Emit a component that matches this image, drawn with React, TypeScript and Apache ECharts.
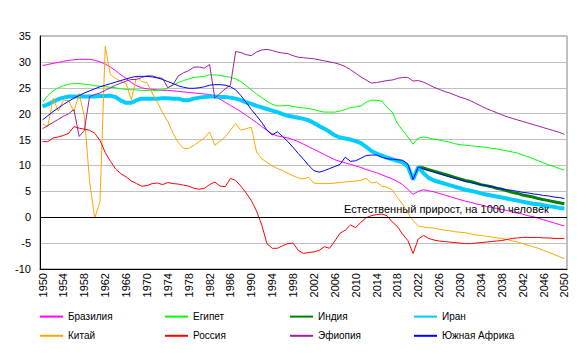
import React, { useEffect, useRef } from "react";
import * as echarts from "echarts";

const years: string[] = Array.from({ length: 101 }, (_, i) => String(1950 + i));

const brazil = [
  29.3, 29.5, 29.7, 29.9, 30.1, 30.3, 30.4, 30.5, 30.5, 30.5,
  30.3, 30.0, 29.6, 29.0, 28.3, 27.5, 26.8, 26.0, 25.4, 25.0,
  24.8, 24.7, 24.6, 24.5, 24.5, 24.4, 24.3, 24.2, 24.1, 24.0,
  23.9, 23.8, 23.7, 23.4, 22.8, 22.2, 21.6, 21.0, 20.4, 19.7,
  19.0, 18.3, 17.5, 16.8, 16.1, 15.7, 15.5, 15.3, 15.0, 14.6,
  14.1, 13.6, 13.1, 12.6, 12.1, 11.6, 11.1, 10.8, 10.5, 10.2,
  9.9, 9.6, 9.2, 8.9, 8.6, 8.2, 7.8, 7.4, 6.9, 6.3,
  5.4, 4.4, 5.0, 5.3, 5.1, 4.9, 4.6, 4.3, 4.0, 3.7,
  3.4, 3.1, 2.9, 2.6, 2.4, 2.1, 1.9, 1.7, 1.5, 1.3,
  1.0, 0.8, 0.6, 0.3, 0.1, -0.2, -0.5, -0.8, -1.1, -1.4,
  -1.7,
];

const egypt = [
  22.2, 23.5, 24.4, 25.0, 25.4, 25.7, 25.8, 25.8, 25.7, 25.6,
  25.4, 25.3, 25.2, 25.1, 25.0, 24.8, 24.7, 24.6, 24.6, 24.5,
  24.5, 24.5, 24.5, 24.6, 25.0, 25.5, 26.0, 26.4, 26.7, 27.0,
  27.1, 27.2, 27.5, 27.5, 27.4, 27.2, 27.0, 26.7, 26.2, 25.4,
  24.6, 23.8, 23.1, 22.4, 21.8, 21.5, 21.5, 21.6, 21.4, 21.2,
  21.1, 21.0, 20.8, 20.5, 20.3, 20.3, 20.3, 20.5, 20.8, 21.2,
  21.3, 21.5, 22.2, 22.6, 22.6, 22.4, 21.3, 20.3, 18.1, 16.8,
  15.5, 14.1, 15.3, 15.5, 15.3, 15.1, 14.9, 14.7, 14.5, 14.2,
  14.0, 13.9, 13.8, 13.7, 13.6, 13.5, 13.3, 13.2, 13.0, 12.8,
  12.6, 12.4, 12.0, 11.7, 11.3, 10.9, 10.5, 10.1, 9.8, 9.4,
  9.1,
];

// India: projection part only (2022–2050)
const indiaStartYear = 2022;
const india = [
  9.7, 9.5, 9.2, 8.9, 8.6, 8.3, 8.0, 7.7, 7.4, 7.1,
  6.9, 6.6, 6.3, 6.1, 5.9, 5.6, 5.4, 5.1, 4.8, 4.6,
  4.3, 4.1, 3.9, 3.6, 3.4, 3.2, 3.0, 2.8, 2.6,
];

const iran = [
  21.4, 21.8, 22.3, 22.8, 23.1, 23.3, 23.3, 23.3, 23.3, 23.3,
  23.3, 23.4, 23.4, 23.5, 23.2, 22.5, 22.1, 22.1, 22.6, 22.9,
  22.9, 22.9, 22.9, 23.0, 23.0, 22.9, 22.9, 22.6, 22.6, 22.9,
  23.1, 23.2, 23.3, 23.3, 23.2, 23.2, 23.1, 22.9, 22.6, 22.2,
  21.9, 21.5, 21.2, 20.9, 20.6, 20.3, 19.9, 19.6, 19.4, 19.2,
  19.0, 18.7, 18.2, 17.6, 17.1, 16.5, 15.8, 15.4, 15.2, 15.0,
  14.7, 14.3, 13.6, 12.8, 12.3, 11.9, 11.5, 11.2, 10.9, 10.6,
  9.8, 7.3, 9.7, 8.5, 7.6, 7.1, 6.8, 6.5, 6.2, 5.9,
  5.6, 5.3, 5.1, 4.9, 4.6, 4.4, 4.2, 4.0, 3.8, 3.6,
  3.4, 3.2, 3.0, 2.8, 2.6, 2.5, 2.3, 2.1, 2.0, 1.8,
  1.7,
];

const china = [
  18.0, 17.5, 23.0, 20.5, 22.6, 22.5, 20.4, 23.9, 19.5, 7.0,
  -0.2, 3.1, 33.0, 27.5, 26.8, 26.2, 25.8, 22.7, 27.2, 26.2,
  26.0, 24.0, 22.2, 20.2, 18.5, 16.2, 14.4, 13.3, 13.3, 13.9,
  14.6, 15.3, 16.5, 13.9, 14.7, 15.5, 16.8, 18.1, 16.8, 17.1,
  17.4, 12.6, 11.3, 10.6, 9.9, 9.4, 9.0, 8.5, 8.0, 7.6,
  7.4, 7.7, 6.6, 6.5, 6.5, 6.5, 6.6, 6.7, 6.8, 6.9,
  7.0, 7.1, 7.5, 6.6, 6.8, 6.0, 5.8, 5.3, 3.8, 2.5,
  0.8, -0.6, -1.7, -1.9, -2.0, -2.1, -2.3, -2.5, -2.6, -2.8,
  -2.9, -3.0, -3.2, -3.4, -3.5, -3.7, -3.8, -4.0, -4.1, -4.3,
  -4.6, -4.8, -5.1, -5.4, -5.7, -6.0, -6.4, -6.8, -7.2, -7.6,
  -8.0,
];

const russia = [
  14.6, 14.6, 15.3, 15.5, 15.8, 16.2, 17.5, 17.2, 17.0, 16.8,
  16.2, 14.8, 12.5, 10.8, 9.3, 8.4, 7.8, 7.0, 6.5, 6.0,
  6.1, 6.5, 6.6, 6.3, 6.7, 6.5, 6.4, 6.2, 6.0, 5.6,
  5.4, 5.6, 6.3, 6.8, 6.0, 5.9, 7.5, 7.1, 6.0, 4.7,
  3.2, 1.2, -1.5, -5.1, -6.0, -6.0, -5.5, -5.1, -5.0, -6.4,
  -7.0, -6.8, -6.7, -6.4, -5.7, -6.0, -4.6, -3.1, -2.5, -1.5,
  -2.0, -1.0, -0.1, 0.3, 0.5, 0.6, 0.3, -0.9, -1.8, -3.3,
  -4.5, -7.0, -4.2, -3.5, -4.1, -4.4, -4.6, -4.7, -4.8, -4.9,
  -5.0, -5.1, -5.1, -5.0, -4.9, -4.8, -4.7, -4.6, -4.5, -4.3,
  -4.1, -4.0, -3.9, -3.9, -3.9, -3.9, -4.0, -4.0, -4.1, -4.1,
  -4.1,
];

const ethiopia = [
  17.1, 17.7, 18.3, 18.9, 19.5, 20.0, 20.8, 15.6, 16.8, 23.3,
  23.7, 24.0, 24.5, 25.0, 25.5, 25.9, 26.3, 26.6, 26.6, 27.0,
  27.3, 27.3, 27.0, 26.8, 25.0, 25.6, 27.3, 27.9, 28.3, 29.0,
  29.0, 28.8, 29.5, 23.0, 23.9, 24.8, 25.5, 32.0, 31.8, 31.4,
  31.2, 31.9, 32.3, 32.4, 32.2, 31.9, 31.7, 31.6, 31.2, 30.9,
  30.8, 30.7, 30.6, 30.4, 30.2, 30.0, 29.8, 29.5, 29.1, 28.5,
  27.8, 27.1, 26.5, 25.9, 26.0, 26.2, 26.4, 26.5, 26.8, 27.0,
  27.0, 26.3, 26.4, 26.1, 25.6, 25.1, 24.7, 24.3, 24.0, 23.6,
  23.2, 22.9, 22.5, 22.0, 21.5, 21.0, 20.6, 20.2, 19.8, 19.4,
  19.1, 18.8, 18.5, 18.2, 17.9, 17.6, 17.3, 17.0, 16.7, 16.4,
  16.0,
];

const southAfrica = [
  18.8, 19.6, 20.4, 21.1, 21.8, 22.4, 23.0, 23.5, 24.0, 24.4,
  24.8, 25.2, 25.5, 25.8, 26.1, 26.4, 26.7, 27.0, 27.2, 27.2,
  27.2, 27.1, 26.9, 26.6, 26.2, 25.8, 25.4, 25.1, 24.9, 24.9,
  25.0, 25.2, 25.5, 25.6, 25.6, 25.5, 25.2, 24.6, 23.5, 22.2,
  20.8, 19.6, 18.3, 16.8, 15.9, 16.5, 15.6, 14.6, 13.5, 12.3,
  11.2, 10.0, 9.0, 8.7, 9.0, 9.4, 9.8, 10.2, 11.6, 10.8,
  10.9, 11.4, 11.9, 12.0, 12.0, 11.6, 11.3, 11.2, 11.1, 11.0,
  10.3, 7.3, 9.7, 9.3, 9.0, 8.7, 8.4, 8.1, 7.8, 7.5,
  7.2, 6.9, 6.7, 6.5, 6.3, 6.1, 5.9, 5.7, 5.5, 5.3,
  5.2, 5.0, 4.8, 4.7, 4.5, 4.4, 4.2, 4.1, 3.9, 3.8,
  3.6,
];

const yTicks = { min: -10, max: 35, interval: 5 };
const annotation = "Естественный прирост, на 1000 человек";

const FONT = 'Arial, "Liberation Sans", sans-serif';

export default function App() {
  const ref = useRef<HTMLDivElement>(null);
  useEffect(() => {
    document.body.style.margin = "0";
    const chart = echarts.init(ref.current!, null, { renderer: "svg" });

    const indiaData = years.map((y) => {
      const idx = Number(y) - indiaStartYear;
      return idx >= 0 ? india[idx] : null;
    });

    const mk = (name: string, data: (number | null)[], color: string, width: number, extra: any = {}) => ({
      name,
      type: "line",
      data,
      symbol: "none",
      showSymbol: false,
      smooth: false,
      connectNulls: false,
      lineStyle: { color, width },
      itemStyle: { color },
      emphasis: { disabled: true },
      ...extra,
    });

    const legendBase = {
      orient: "vertical",
      top: 306,
      itemWidth: 23,
      itemHeight: 14,
      itemGap: 8,
      textStyle: { fontSize: 10, color: "#000", fontFamily: FONT },
      itemStyle: { opacity: 0 },
      selectedMode: false,
    };

    chart.setOption({
      animation: false,
      textStyle: { fontFamily: FONT },
      grid: {
        left: 40,
        right: 13,
        top: 36,
        bottom: 88,
        show: true,
        borderColor: "#808080",
        borderWidth: 1,
        containLabel: false,
      },
      legend: [
        { ...legendBase, left: 34, data: ["Бразилия", "Китай"] },
        { ...legendBase, left: 159, data: ["Египет", "Россия"] },
        { ...legendBase, left: 284, data: ["Индия", "Эфиопия"] },
        { ...legendBase, left: 408, data: ["Иран", "Южная Африка"] },
      ],
      xAxis: {
        type: "category",
        data: years,
        boundaryGap: true,
        axisLine: { show: true, onZero: false, lineStyle: { color: "#000", width: 1 } },
        axisTick: { show: false },
        axisLabel: {
          interval: 3,
          rotate: 90,
          margin: 4,
          fontSize: 11,
          color: "#000",
          fontFamily: FONT,
        },
        splitLine: { show: false },
      },
      yAxis: {
        type: "value",
        min: yTicks.min,
        max: yTicks.max,
        interval: yTicks.interval,
        axisLine: { show: true, lineStyle: { color: "#000", width: 1 } },
        axisTick: { show: false },
        axisLabel: { fontSize: 11, color: "#000", margin: 9, fontFamily: FONT },
        splitLine: { show: true, lineStyle: { color: "#c0c0c0", width: 1 } },
      },
      series: [
        mk("Бразилия", brazil, "#ff00ff", 1, {
          markLine: {
            silent: true,
            symbol: "none",
            label: { show: false },
            lineStyle: { color: "#000", width: 1, type: "solid" },
            data: [{ yAxis: 0 }],
          },
        }),
        mk("Египет", egypt, "#00ff00", 1),
        mk("Индия", indiaData, "#008000", 3),
        mk("Иран", iran, "#00ccff", 4),
        mk("Китай", china, "#ffa500", 1),
        mk("Россия", russia, "#ff0000", 1),
        mk("Эфиопия", ethiopia, "#a020a0", 1),
        mk("Южная Африка", southAfrica, "#0000ff", 1),
      ],
      graphic: [
        {
          type: "text",
          left: 344,
          top: 203,
          z: 100,
          style: {
            text: annotation,
            fontSize: 11,
            fontFamily: FONT,
            fill: "#000",
          },
        },
      ],
    });
    return () => chart.dispose();
  }, []);
  return <div ref={ref} style={{ width: 580, height: 357 }} />;
}
